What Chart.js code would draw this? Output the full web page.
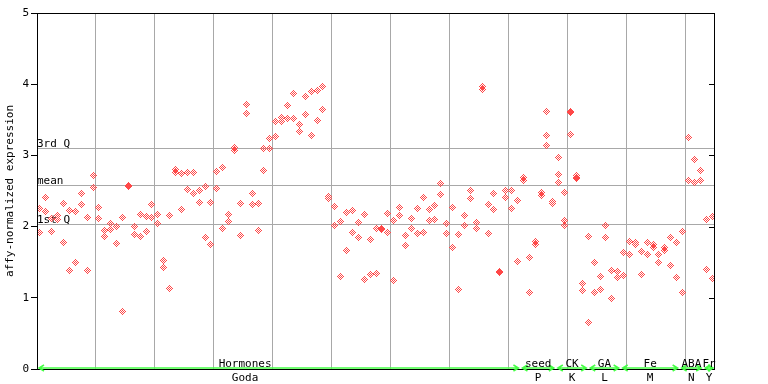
<!DOCTYPE html>
<html>
<head>
<meta charset="utf-8">
<script src="https://cdn.jsdelivr.net/npm/chart.js@4"></script>
<style>
  html, body { margin: 0; padding: 0; background: #fff; }
  #wrap { width: 768px; height: 384px; }
</style>
</head>
<body>
<div id="wrap"><canvas id="exprChart"></canvas></div>
<script>
// expression per sample (one slot per array, samples in plot order)
const rep1 = [2.26, 2.41, 2.11, 2.16, 2.33, 2.23, 2.21, 2.47, 2.13, 2.72,
  2.27, 1.95, 2.05, 2.00, 2.13, 2.58, 2.00, 2.17, 2.14, 2.31,
  2.17, 1.53, 2.16, 2.80, 2.75, 2.76, 2.76, 2.51, 2.56, 2.34,
  2.78, 2.83, 2.17, 3.11, 2.33, 3.72, 2.47, 2.33, 3.10, 3.24,
  3.48, 3.53, 3.70, 3.87, 3.44, 3.83, 3.90, 3.91, 3.97, 2.42,
  2.28, 2.07, 2.20, 2.23, 2.06, 2.17, 1.82, 1.98, 1.97, 2.19,
  2.09, 2.27, 1.87, 2.12, 2.26, 2.41, 2.24, 2.30, 2.61, 2.05,
  2.27, 1.89, 2.16, 2.51, 2.06, 3.97, 2.31, 2.47, 1.37, 2.51,
  2.51, 2.37, 2.69, 1.57, 1.79, 2.48, 3.62, 2.35, 2.97, 2.48,
  3.61, 2.72, 1.20, 1.86, 1.50, 1.30, 2.02, 1.39, 1.37, 1.64,
  1.79, 1.78, 1.65, 1.77, 1.75, 1.61, 1.70, 1.84, 1.78, 1.93,
  3.25, 2.94, 2.79, 2.10, 2.14];
const rep2 = [1.92, 2.21, 1.93, 2.10, 1.77, 1.39, 1.50, 2.31, 1.39, 2.55,
  2.12, 1.86, 1.96, 1.76, 0.81, 2.56, 1.89, 1.86, 1.93, 2.13,
  2.05, 1.43, 1.13, 2.76, 2.24, 2.52, 2.47, 2.34, 1.84, 1.75,
  2.54, 1.98, 2.07, 3.07, 1.87, 3.59, 2.31, 1.95, 2.79, 3.09,
  3.26, 3.48, 3.52, 3.52, 3.34, 3.57, 3.28, 3.49, 3.65, 2.39,
  2.02, 1.30, 1.67, 1.92, 1.84, 1.26, 1.33, 1.34, 1.96, 1.92,
  1.25, 2.15, 1.73, 1.97, 1.90, 1.92, 2.09, 2.10, 2.45, 1.91,
  1.71, 1.11, 2.02, 2.39, 1.98, 3.93, 1.91, 2.24, 1.36, 2.41,
  2.26, 1.51, 2.65, 1.08, 1.75, 2.44, 3.28, 2.32, 2.73, 2.09,
  3.60, 2.69, 1.10, 0.66, 1.08, 1.12, 1.84, 0.99, 1.29, 1.32,
  1.61, 1.75, 1.33, 1.61, 1.70, 1.49, 1.67, 1.46, 1.29, 1.08,
  2.65, 2.62, 2.65, 1.40, 1.27];
// third replicate, only a few samples have one
const rep3Index = [86, 88, 89, 90, 91];
const rep3Value = [3.14, 2.62, 2.02, 3.30, 2.67];

const yTicks = [0, 1, 2, 3, 4, 5];
const refValues = [3.10, 2.58, 2.03];
const refLabels = ['3rd Q', 'mean', '1st Q'];

const groupNames = ['Hormones', 'seed', 'CK', 'GA', 'Fe', 'ABA', 'Fr'];
const groupCodes = ['Goda', 'P', 'K', 'L', 'M', 'N', 'Y'];
const groupStart = [0, 82, 88, 93.5, 99, 109, 113];
const groupEnd = [82, 88, 93.5, 99, 109, 113, 115];
const groupLabelAt = [35.3, 85, 90.75, 96.25, 104, 111, 114];

const nSamples = rep1.length;
const RED = 'rgb(255, 72, 72)';
const GREEN = '#44ff44';
const GRID = '#a8a8a8';
const FONT = '"DejaVu Sans Mono", monospace';

function toPoints(vals) {
  return vals.map((v, i) => ({ x: i + 0.5, y: v }));
}
const rep3Points = rep3Index.map((idx, k) => ({ x: idx + 0.5, y: rep3Value[k] }));

// 7x7 dotted diamond like the original marker
function diamondSprite(color) {
  const c = document.createElement('canvas');
  c.width = 7;
  c.height = 7;
  const g = c.getContext('2d');
  g.fillStyle = color;
  for (let i = 0; i < 7; i++) {
    for (let j = 0; j < 7; j++) {
      const d = Math.abs(i - 3) + Math.abs(j - 3);
      if (d <= 3 && d % 2 === 1) g.fillRect(i, j, 1, 1);
    }
  }
  return c;
}
const marker = diamondSprite(RED);

const pointStyle = {
  showLine: false,
  pointStyle: marker,
  pointRadius: 3.5
};

// quartile / mean lines with their captions
const refLinesPlugin = {
  id: 'refLines',
  beforeDatasetsDraw(chart) {
    const { ctx, chartArea: a, scales: { y } } = chart;
    ctx.save();
    ctx.strokeStyle = GRID;
    ctx.lineWidth = 1;
    ctx.fillStyle = '#000';
    ctx.font = '11px ' + FONT;
    ctx.textBaseline = 'alphabetic';
    refValues.forEach((v, i) => {
      const py = Math.round(y.getPixelForValue(v)) + 0.5;
      ctx.beginPath();
      ctx.moveTo(a.left, py);
      ctx.lineTo(a.right, py);
      ctx.stroke();
      ctx.fillText(refLabels[i], a.left, py - 2);
    });
    ctx.restore();
    ctx.imageSmoothingEnabled = false;
  }
};

// box, right-hand ticks, and the group arrows under the plot
const framePlugin = {
  id: 'frame',
  afterDraw(chart) {
    const { ctx, chartArea: a, scales: { x, y } } = chart;
    ctx.save();
    ctx.strokeStyle = '#000';
    ctx.lineWidth = 1;
    ctx.strokeRect(a.left + 0.5, a.top + 0.5, a.right - a.left - 1, a.bottom - a.top);
    yTicks.forEach(t => {
      const py = Math.round(y.getPixelForValue(t)) + 0.5;
      ctx.beginPath();
      ctx.moveTo(a.right - 6, py);
      ctx.lineTo(a.right, py);
      ctx.stroke();
    });

    ctx.strokeStyle = GREEN;
    ctx.lineWidth = 1.5;
    const gy = a.bottom - 1;
    groupNames.forEach((name, i) => {
      const x0 = x.getPixelForValue(groupStart[i]) + 2;
      const x1 = x.getPixelForValue(groupEnd[i]) - 2;
      ctx.beginPath();
      ctx.moveTo(x0, gy);
      ctx.lineTo(x1, gy);
      ctx.moveTo(x0 + 5, gy - 3);
      ctx.lineTo(x0, gy);
      ctx.lineTo(x0 + 5, gy + 3);
      ctx.moveTo(x1 - 5, gy - 3);
      ctx.lineTo(x1, gy);
      ctx.lineTo(x1 - 5, gy + 3);
      ctx.stroke();
    });

    ctx.fillStyle = '#000';
    ctx.font = '11px ' + FONT;
    ctx.textAlign = 'center';
    ctx.textBaseline = 'alphabetic';
    groupNames.forEach((name, i) => {
      const px = x.getPixelForValue(groupLabelAt[i]);
      ctx.fillText(name, px, a.bottom - 2);
      ctx.fillText(groupCodes[i], px, a.bottom + 12);
    });
    ctx.restore();
  }
};

new Chart(document.getElementById('exprChart'), {
  type: 'scatter',
  data: {
    datasets: [
      Object.assign({ label: 'rep1', data: toPoints(rep1) }, pointStyle),
      Object.assign({ label: 'rep2', data: toPoints(rep2) }, pointStyle),
      Object.assign({ label: 'rep3', data: rep3Points }, pointStyle)
    ]
  },
  options: {
    responsive: true,
    maintainAspectRatio: false,
    animation: false,
    layout: { padding: { top: 13, right: 53, left: 0, bottom: 0 } },
    scales: {
      x: {
        type: 'linear',
        min: 0,
        max: nSamples,
        afterBuildTicks(scale) {
          scale.ticks = [];
          for (let v = 0; v < nSamples; v += 10) scale.ticks.push({ value: v });
        },
        afterFit(scale) { scale.height = 15; },
        ticks: { display: false },
        grid: { color: GRID, lineWidth: 1, drawTicks: false },
        border: { display: false }
      },
      y: {
        min: 0,
        max: 5,
        afterBuildTicks(scale) {
          scale.ticks = yTicks.map(v => ({ value: v }));
        },
        afterFit(scale) { scale.width = 37; },
        ticks: {
          color: '#000',
          padding: 2,
          font: { family: FONT, size: 11 }
        },
        grid: { drawOnChartArea: false, drawTicks: true, tickLength: 6, color: '#000' },
        border: { display: true, color: '#000' },
        title: {
          display: true,
          text: 'affy-normalized expression',
          color: '#000',
          padding: { top: 4, bottom: 0 },
          font: { family: FONT, size: 11 }
        }
      }
    },
    plugins: {
      legend: { display: false },
      tooltip: { enabled: false }
    }
  },
  plugins: [refLinesPlugin, framePlugin]
});
</script>
</body>
</html>
